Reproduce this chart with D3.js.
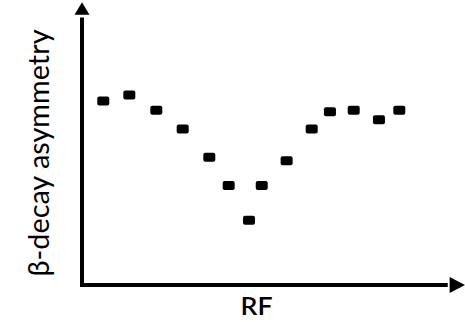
<!DOCTYPE html>
<html><head><meta charset="utf-8">
<script src="https://cdn.jsdelivr.net/npm/d3@7"></script>
<style>html,body{margin:0;padding:0;background:#fff;}svg{display:block;}</style>
</head><body>
<script>
const rf = [1.12, 2.49, 3.91, 5.30, 6.70, 7.72, 8.79, 9.46, 10.77, 12.09, 13.05, 14.30, 15.63, 16.70];
const asym = [0.657, 0.679, 0.624, 0.557, 0.456, 0.355, 0.231, 0.355, 0.444, 0.557, 0.619, 0.624, 0.590, 0.624];
const xLabel = "RF";
const yLabel = "β-decay asymmetry";

const W = 465, H = 322;
const svg = d3.select("body").append("svg").attr("width", W).attr("height", H);
const x = d3.scaleLinear().domain([0, 20]).range([82, 462]);
const y = d3.scaleLinear().domain([0, 1]).range([285, 5]);

// axes
const x0 = x(0), y0 = y(0);
svg.append("path")
  .attr("d", `M${x0},${y(0.955)} L${x0},${y0} L${x(19.25)},${y0}`)
  .attr("fill", "none").attr("stroke", "#000").attr("stroke-width", 4)
  .attr("stroke-linejoin", "miter");
// arrow heads
svg.append("path")
  .attr("d", `M${x0},${y(1.01)} L${x0-7.5},${y(0.965)} L${x0+7.5},${y(0.965)} Z`)
  .attr("fill", "#000");
svg.append("path")
  .attr("d", `M${x(20.16)},${y0} L${x(19.35)},${y0-8} L${x(19.35)},${y0+8} Z`)
  .attr("fill", "#000");

// points
svg.selectAll("rect.pt").data(rf.map((r,i)=>({r, a: asym[i]})))
  .enter().append("rect").attr("class","pt")
  .attr("x", d => x(d.r) - 6).attr("y", d => y(d.a) - 4.5)
  .attr("width", 12).attr("height", 9).attr("rx", 2).attr("ry", 2)
  .attr("fill", "#000");

// labels
svg.append("text").attr("x", 256.5).attr("y", 315)
  .attr("text-anchor", "middle").attr("font-family", "Lato, 'Open Sans', sans-serif")
  .attr("font-size", 24).attr("font-weight", 600)
  .attr("textLength", 32).attr("lengthAdjust", "spacingAndGlyphs").text(xLabel);

svg.append("text").attr("transform", "translate(49,153) rotate(-90)")
  .attr("text-anchor", "middle").attr("font-family", "Lato, 'Open Sans', sans-serif")
  .attr("font-size", 29).attr("textLength", 247).attr("lengthAdjust", "spacingAndGlyphs")
  .text(yLabel);
</script>
</body></html>
